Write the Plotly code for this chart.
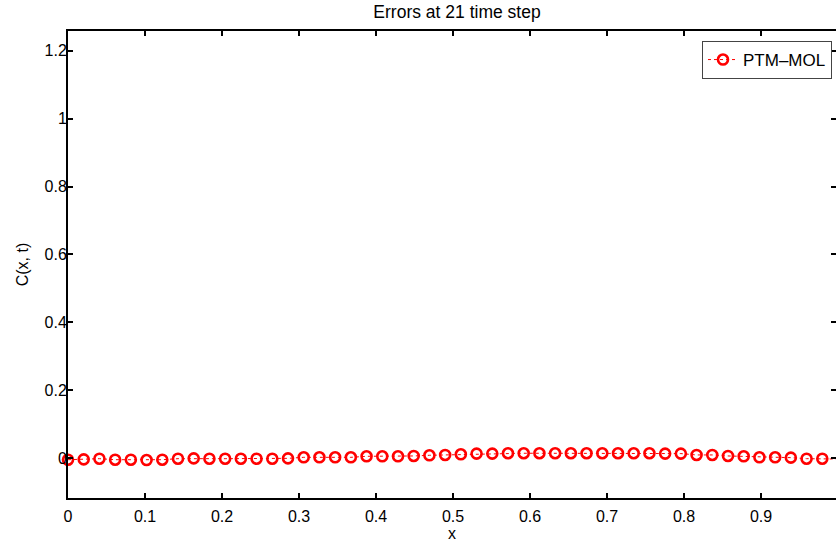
import numpy as np
import plotly.graph_objects as go

# grid of 50 spatial nodes on [0, 1]
x_vals = np.linspace(0, 1, 50)
# error values
err_vals = [-0.005, -0.004, -0.002, -0.005, -0.005, -0.006, -0.005, -0.002, -0.001, -0.002,
            -0.002, -0.002, -0.002, -0.002, -0.001, 0.002, 0.002, 0.002, 0.002, 0.005,
            0.005, 0.005, 0.006, 0.008, 0.009, 0.011, 0.013, 0.013, 0.014, 0.014,
            0.014, 0.014, 0.014, 0.014, 0.014, 0.014, 0.014, 0.014, 0.013, 0.013,
            0.009, 0.009, 0.006, 0.005, 0.002, 0.002, 0.001, -0.002, -0.002, -0.003]
x_ticks = [0, 0.1, 0.2, 0.3, 0.4, 0.5, 0.6, 0.7, 0.8, 0.9]
x_tick_labels = ["0", "0.1", "0.2", "0.3", "0.4", "0.5", "0.6", "0.7", "0.8", "0.9"]
y_ticks = [0, 0.2, 0.4, 0.6, 0.8, 1.0, 1.2]
y_tick_labels = ["0", "0.2", "0.4", "0.6", "0.8", "1", "1.2"]
series_name = "PTM\u2013MOL"

FONT = "Liberation Sans, Arial, Helvetica, sans-serif"
Y_RANGE = [-40 / 339.3, 427 / 339.3]

fig = go.Figure()
fig.add_trace(go.Scatter(
    x=x_vals, y=err_vals, mode="lines+markers", name=series_name,
    line=dict(color="red", width=1, dash="dot"),
    marker=dict(symbol="circle-open", size=10, color="red", line=dict(color="red", width=2.6)),
    cliponaxis=False,
))
# empty helper trace so the right-hand tick axis is drawn
fig.add_trace(go.Scatter(x=[None], y=[None], yaxis="y2", showlegend=False, hoverinfo="skip"))

tickfont = dict(family=FONT, size=16, color="black")

fig.update_layout(
    width=836, height=543,
    margin=dict(l=68, r=0, t=31, b=45),
    paper_bgcolor="white", plot_bgcolor="white",
    font=dict(family=FONT, size=16, color="black"),
    title=dict(text="Errors at 21 time step", x=457 / 836, xanchor="center",
               y=1 - 12 / 543, yanchor="middle", font=dict(family=FONT, size=17.5, color="black")),
    xaxis=dict(range=[0, (836 - 68) / 770], tickvals=x_ticks, ticktext=x_tick_labels,
               showgrid=False, zeroline=False, showline=True, linecolor="black", linewidth=2,
               ticks="inside", ticklen=5, tickwidth=1.5, tickcolor="black", mirror="ticks",
               tickfont=tickfont, ticklabelstandoff=3,
               title=dict(text="x", standoff=4, font=dict(family=FONT, size=16))),
    yaxis=dict(range=Y_RANGE, tickvals=y_ticks, ticktext=y_tick_labels,
               showgrid=False, zeroline=False, showline=True, linecolor="black", linewidth=2,
               ticks="inside", ticklen=5, tickwidth=1.5, tickcolor="black", mirror=False,
               tickfont=tickfont, ticklabelstandoff=-4,
               title=dict(text="C(x, t)", standoff=12, font=dict(family=FONT, size=16))),
    yaxis2=dict(range=Y_RANGE, tickvals=y_ticks, overlaying="y", side="right",
                showgrid=False, zeroline=False, showline=False, showticklabels=False,
                ticks="inside", ticklen=5, tickwidth=1.5, tickcolor="black"),
    showlegend=True,
    legend=dict(x=(832 - 68) / 768, xanchor="right", y=(498 - 41) / 467, yanchor="top",
                bgcolor="white", bordercolor="#444", borderwidth=1,
                font=dict(family=FONT, size=17, color="black")),
)

fig.write_html("out.html")
